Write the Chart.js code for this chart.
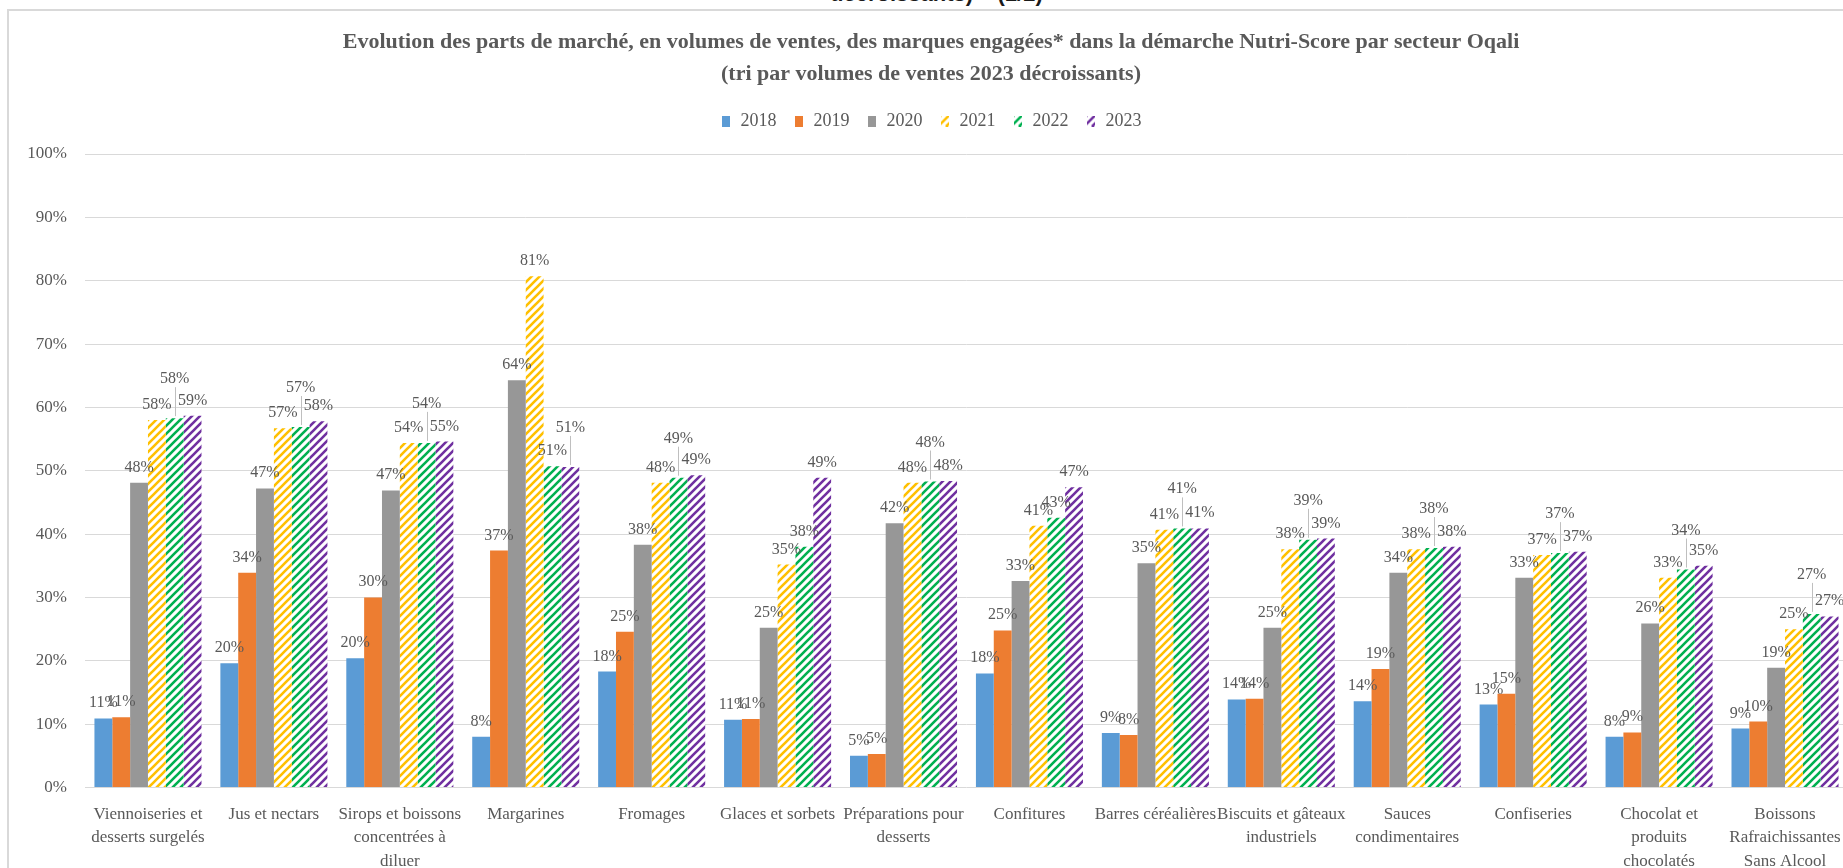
<!DOCTYPE html>
<html><head><meta charset="utf-8">
<script src="https://cdn.jsdelivr.net/npm/chart.js@4/dist/chart.umd.min.js"></script>
<style>
html,body{margin:0;padding:0;background:#fff;overflow:hidden;width:1843px;height:868px;position:relative;}
#head{position:absolute;left:830px;top:-19px;font:bold 22px "Liberation Sans",Arial,sans-serif;color:#1a1a1a;line-height:normal;white-space:nowrap;}
#frame{position:absolute;left:7px;top:9px;width:2000px;height:1000px;border-top:2px solid #d9d9d9;border-left:2px solid #d9d9d9;}
#wrap{position:absolute;left:0;top:0;width:1856px;height:888px;}
</style></head><body>
<div id="head">décroissants) – (1/2)</div>
<div id="frame"></div>
<div id="wrap"><canvas id="c"></canvas></div>
<script>
const categories = [
  ["Viennoiseries et", "desserts surgelés"],
  ["Jus et nectars"],
  ["Sirops et boissons", "concentrées à", "diluer"],
  ["Margarines"],
  ["Fromages"],
  ["Glaces et sorbets"],
  ["Préparations pour", "desserts"],
  ["Confitures"],
  ["Barres céréalières"],
  ["Biscuits et gâteaux", "industriels"],
  ["Sauces", "condimentaires"],
  ["Confiseries"],
  ["Chocolat et", "produits", "chocolatés"],
  ["Boissons", "Rafraichissantes", "Sans Alcool"]
];
const years = ["2018", "2019", "2020", "2021", "2022", "2023"];
const v2018 = [10.9, 19.6, 20.4, 8.0, 18.3, 10.7, 5.0, 18.0, 8.6, 13.9, 13.6, 13.1, 8.0, 9.3];
const v2019 = [11.1, 33.9, 30.0, 37.4, 24.6, 10.8, 5.3, 24.8, 8.3, 14.0, 18.7, 14.8, 8.7, 10.4];
const v2020 = [48.1, 47.2, 46.9, 64.3, 38.3, 25.2, 41.7, 32.6, 35.4, 25.2, 33.9, 33.1, 25.9, 18.9];
const v2021 = [58.0, 56.7, 54.4, 80.7, 48.1, 35.2, 48.1, 41.3, 40.7, 37.6, 37.6, 36.7, 33.1, 25.0];
const v2022 = [58.3, 56.9, 54.4, 50.7, 48.9, 38.0, 48.3, 42.6, 40.9, 39.1, 37.8, 37.0, 34.4, 27.4];
const v2023 = [58.7, 57.8, 54.6, 50.6, 49.3, 48.9, 48.4, 47.4, 40.9, 39.3, 38.0, 37.2, 35.0, 27.0];
const yTickValues = [0, 10, 20, 30, 40, 50, 60, 70, 80, 90, 100];
const titleLines = ["Evolution des parts de marché, en volumes de ventes, des marques engagées* dans la démarche Nutri-Score par secteur Oqali",
                    "(tri par volumes de ventes 2023 décroissants)"];

const SERIF = "'Liberation Serif', 'DejaVu Serif', serif";
const TXT = '#595959';
const canvas = document.getElementById('c');
const mainCtx = canvas.getContext('2d');

function hatchCanvas(color, w, h) {
  const c = document.createElement('canvas');
  c.width = w; c.height = h;
  const x = c.getContext('2d');
  x.fillStyle = '#fff'; x.fillRect(0, 0, w, h);
  x.strokeStyle = color; x.lineWidth = 2.6;
  x.beginPath();
  const s = 8;
  for (let k = -2; k < (w + h) / s + 2; k++) {
    const o = k * s;
    x.moveTo(o - h, h); x.lineTo(o, 0);
  }
  x.stroke();
  return c;
}
function hatchPattern(color) {
  const s = 8;
  const c = document.createElement('canvas');
  c.width = s; c.height = s;
  const x = c.getContext('2d');
  x.fillStyle = '#fff'; x.fillRect(0, 0, s, s);
  x.strokeStyle = color; x.lineWidth = 2.6; x.lineCap = 'square';
  x.beginPath();
  x.moveTo(0, s); x.lineTo(s, 0);
  x.moveTo(-s / 2, s / 2); x.lineTo(s / 2, -s / 2);
  x.moveTo(s / 2, s * 1.5); x.lineTo(s * 1.5, s / 2);
  x.stroke();
  return mainCtx.createPattern(c, 'repeat');
}
function solidSwatch(color) {
  const c = document.createElement('canvas');
  c.width = 8; c.height = 11;
  const x = c.getContext('2d');
  x.fillStyle = color; x.fillRect(0, 0, 8, 11);
  return c;
}

const colors = ['#5B9BD5', '#ED7D31', '#979797', '#FFC000', '#00B050', '#7030A0'];
const seriesValues = [v2018, v2019, v2020, v2021, v2022, v2023];
const fills = colors.map((c, i) => i < 3 ? c : hatchPattern(c));
const swatches = colors.map((c, i) => i < 3 ? solidSwatch(c) : hatchCanvas(c, 8, 11));

const datasets = years.map((y, i) => ({
  label: y,
  data: seriesValues[i],
  backgroundColor: fills[i],
  borderWidth: 0,
  categoryPercentage: 0.85,
  barPercentage: 1.0
}));

const labelPlugin = {
  id: 'barLabels',
  afterDatasetsDraw(chart) {
    const ctx = chart.ctx;
    ctx.save();
    ctx.font = "16px " + SERIF;
    ctx.fillStyle = TXT;
    ctx.textAlign = 'center';
    ctx.textBaseline = 'alphabetic';
    const metas = chart.data.datasets.map((d, i) => chart.getDatasetMeta(i));
    const n = chart.data.labels.length;
    const box = it => ({ l: it.x - it.w / 2, r: it.x + it.w / 2, t: it.base - 13, b: it.base + 4 });
    const hit = (a, b) => { const A = box(a), B = box(b); return A.l < B.r && B.l < A.r && A.t < B.b && B.t < A.b; };
    for (let j = 0; j < n; j++) {
      const items = metas.map((m, i) => {
        const el = m.data[j];
        const txt = Math.round(chart.data.datasets[i].data[j]) + '%';
        return { x: el.x, top: el.y, txt, w: ctx.measureText(txt).width, base: el.y - 11, raised: false };
      });
      for (let i = 1; i < items.length; i++) {
        const last = i === items.length - 1;
        if (hit(items[i], items[i - 1]) && (last || hit(items[i], items[i + 1]))) {
          items[i].base -= 24; items[i].raised = true;
        }
      }
      items.forEach(it => {
        if (it.raised) {
          ctx.save();
          ctx.strokeStyle = '#bfbfbf'; ctx.lineWidth = 1;
          ctx.beginPath();
          ctx.moveTo(Math.round(it.x) + 0.5, it.base + 4);
          ctx.lineTo(Math.round(it.x) + 0.5, it.top - 2);
          ctx.stroke();
          ctx.restore();
        }
        ctx.fillText(it.txt, it.x, it.base);
      });
    }
    ctx.restore();
  }
};

const legendSpacer = {
  id: 'legendSpacer',
  beforeLayout(chart) {
    const lg = chart.legend;
    if (lg && !lg._spaced) {
      const f = lg.fit;
      lg.fit = function () { f.call(this); this.height += 14; };
      lg._spaced = true;
    }
  }
};

new Chart(canvas, {
  type: 'bar',
  data: { labels: categories, datasets },
  plugins: [legendSpacer, labelPlugin],
  options: {
    responsive: true,
    maintainAspectRatio: false,
    devicePixelRatio: 1,
    animation: false,
    layout: { padding: { left: 14, right: 8, top: 0, bottom: 0 } },
    plugins: {
      title: {
        display: true,
        text: titleLines,
        color: TXT,
        font: { family: SERIF, size: 22, weight: 'bold', lineHeight: '32px' },
        padding: { top: 26, bottom: 5 }
      },
      legend: {
        display: true,
        position: 'top',
        labels: {
          color: TXT,
          font: { family: SERIF, size: 18 },
          usePointStyle: true,
          pointStyleWidth: 11,
          padding: 17,
          generateLabels(chart) {
            const items = Chart.defaults.plugins.legend.labels.generateLabels(chart);
            items.forEach((it, i) => { it.pointStyle = swatches[i]; });
            return items;
          }
        }
      },
      tooltip: { enabled: false }
    },
    scales: {
      x: {
        grid: { display: false, drawTicks: false },
        border: { display: false },
        ticks: {
          color: TXT,
          font: { family: SERIF, size: 17, lineHeight: '23.5px' },
          padding: 15,
          maxRotation: 0,
          autoSkip: false
        }
      },
      y: {
        min: 0, max: 100,
        afterBuildTicks(scale) { scale.ticks = yTickValues.map(v => ({ value: v })); },
        afterFit(scale) { scale.width = 71; },
        grid: { color: '#d9d9d9', lineWidth: 1, drawTicks: false },
        border: { display: false },
        ticks: {
          color: TXT,
          font: { family: SERIF, size: 17 },
          padding: 18,
          callback: v => v + '%'
        }
      }
    }
  }
});
</script>
</body></html>
